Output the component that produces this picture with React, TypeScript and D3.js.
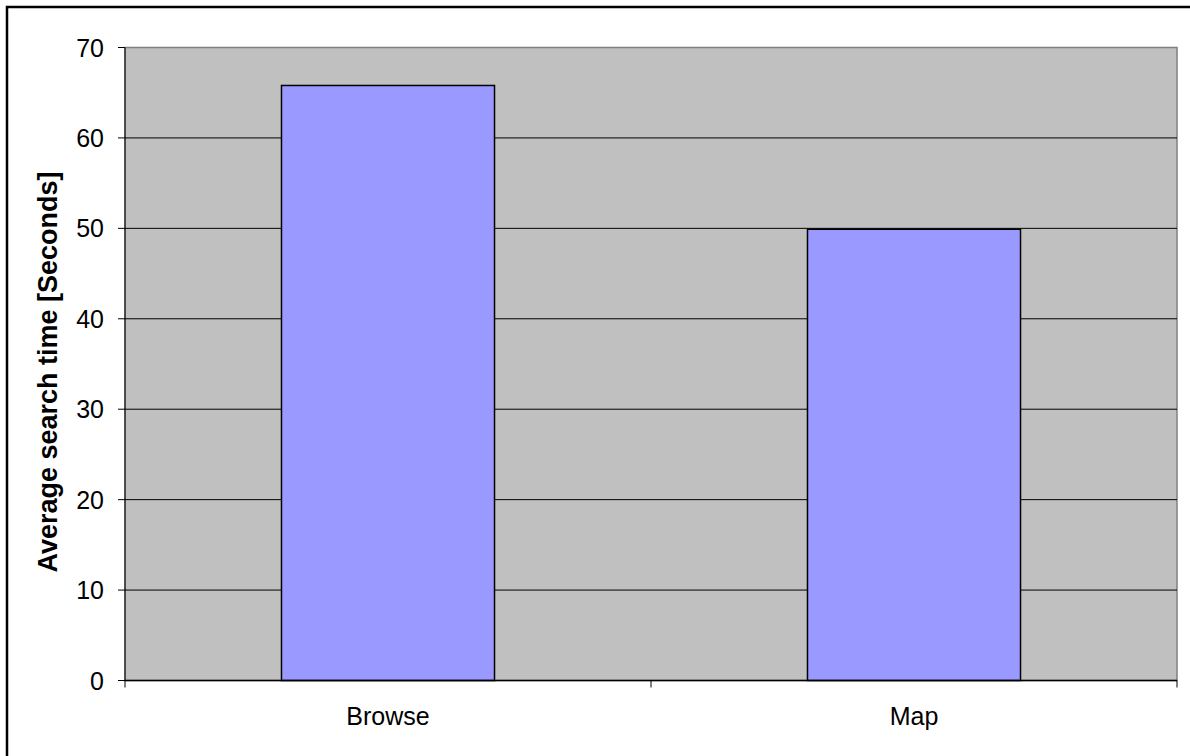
import React from "react";
import * as d3 from "d3";

const categories = ["Browse", "Map"];
const searchTimes = [65.8, 49.9];
const yTicks = [0, 10, 20, 30, 40, 50, 60, 70];
const yTitle = "Average search time [Seconds]";

const W = 1190;
const H = 756;
const plot = { left: 125, right: 1177, top: 47.5, bottom: 680.5 };

export default function App() {
  const x = d3
    .scaleBand<string>()
    .domain(categories)
    .range([plot.left, plot.right])
    .padding(0);

  const y = d3.scaleLinear().domain([0, 70]).range([plot.bottom, plot.top]);

  const barW = x.bandwidth() * 0.405;
  const font = "'Liberation Sans', Arial, sans-serif";

  // category boundaries for x tick marks
  const xBounds = [...categories.map(c => x(c)!), plot.right];

  return (
    <svg
      width={W}
      height={H}
      style={{ position: "absolute", left: 0, top: 0, display: "block" }}
    >
      <rect x={0} y={0} width={W} height={H} fill="#fff" />
      {/* outer frame, cropped on the right and bottom */}
      <rect x={7} y={7} width={W + 20} height={H + 20} fill="none" stroke="#000" strokeWidth={2.5} />

      {/* plot background */}
      <rect
        x={plot.left}
        y={plot.top}
        width={plot.right - plot.left}
        height={plot.bottom - plot.top}
        fill="#c0c0c0"
        stroke="#808080"
        strokeWidth={1.5}
      />

      {/* gridlines */}
      {yTicks.slice(1, -1).map(t => (
        <line key={t} x1={plot.left} x2={plot.right} y1={y(t)} y2={y(t)} stroke="#000" strokeWidth={1} />
      ))}

      {/* bars */}
      {categories.map((c, i) => {
        const cx = x(c)! + x.bandwidth() / 2;
        return (
          <rect
            key={c}
            x={cx - barW / 2}
            y={y(searchTimes[i])}
            width={barW}
            height={y(0) - y(searchTimes[i])}
            fill="#9999ff"
            stroke="#000"
            strokeWidth={1.5}
          />
        );
      })}

      {/* y axis */}
      <line x1={plot.left} x2={plot.left} y1={plot.top} y2={plot.bottom} stroke="#000" strokeWidth={1} />
      {yTicks.map(t => (
        <g key={t} transform={`translate(0,${y(t)})`}>
          <line x1={plot.left - 7} x2={plot.left} stroke="#000" />
          <text x={plot.left - 21} y={9} textAnchor="end" fontSize={25} fontFamily={font} fill="#000">
            {t}
          </text>
        </g>
      ))}

      {/* x axis */}
      <line x1={plot.left} x2={plot.right} y1={plot.bottom} y2={plot.bottom} stroke="#000" strokeWidth={1.5} />
      {xBounds.map((b, i) => (
        <line key={i} x1={b} x2={b} y1={plot.bottom} y2={plot.bottom + 7} stroke="#000" />
      ))}
      {categories.map(c => (
        <text
          key={c}
          x={x(c)! + x.bandwidth() / 2}
          y={725}
          textAnchor="middle"
          fontSize={25}
          fontFamily={font}
          fill="#000"
        >
          {c}
        </text>
      ))}

      {/* y title */}
      <text
        transform={`translate(57,372) rotate(-90)`}
        textAnchor="middle"
        fontSize={27}
        fontWeight="bold"
        fontFamily={font}
        fill="#000"
      >
        {yTitle}
      </text>
    </svg>
  );
}
